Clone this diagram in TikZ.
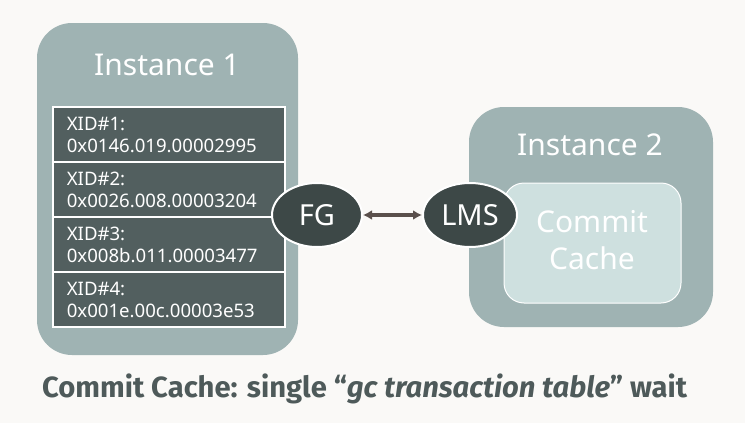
\documentclass[tikz,border=0pt]{standalone}
\usepackage{fontspec}
\setmainfont{Noto Sans}
\newfontfamily\capfont{Fira Sans}
\usetikzlibrary{arrows.meta,shapes.geometric}
\definecolor{bgc}{HTML}{FAF9F7}
\definecolor{instc}{HTML}{9FB3B3}
\definecolor{rowc}{HTML}{525F5F}
\definecolor{ellc}{HTML}{3D4847}
\definecolor{arrc}{HTML}{5A504C}
\definecolor{cachec}{HTML}{CEE0DF}
\definecolor{capc}{HTML}{4E5A5A}
\tikzset{
  instbox/.style={fill=instc, rounded corners=35pt},
  rowbox/.style={draw=white, line width=2.8pt, fill=rowc, minimum width=232pt, minimum height=55pt, inner sep=0pt},
  rowtext/.style={anchor=west, inner sep=0pt, align=left, text=white, font=\fontsize{18.6}{22}\selectfont},
  titletext/.style={text=white, inner sep=0pt, font=\fontsize{30}{36}\selectfont},
  proc/.style={ellipse, draw=white, line width=2pt, fill=ellc, text=white, inner sep=0pt, font=\fontsize{29}{34}\selectfont},
  link/.style={draw=arrc, line width=3.3pt, {Latex[length=9pt,width=10pt]}-{Latex[length=9pt,width=10pt]}},
}
\begin{document}
\begin{tikzpicture}[x=1pt,y=-1pt]
\fill[bgc] (0,0) rectangle (745,423);
\useasboundingbox (0,0) rectangle (745,423);
% Instance 1
\fill[instbox] (37,23) rectangle (298,355);
\node[titletext, anchor=base] (t1) at (167,75) {Instance 1};
\foreach \i/\a/\b in {0/XID\#1:/0x0146.019.00002995, 1/XID\#2:/0x0026.008.00003204, 2/XID\#3:/0x008b.011.00003477, 3/XID\#4:/0x001e.00c.00003e53}{
  \node[rowbox] (r\i) at (169,{134.5+55*\i}) {};
  \node[rowtext] (x\i) at ([xshift=15pt]r\i.west) {\a\\\b};
}
% Instance 2
\fill[instbox] (469,107) rectangle (713,327);
\node[titletext, anchor=base] (t2) at (590,155) {Instance 2};
\draw[draw=white, line width=1pt, fill=cachec, rounded corners=20pt] (504,183) rectangle (681,303);
\node[titletext, align=center, font=\fontsize{30}{37}\selectfont, anchor=base] (cc) at (592,269) {Commit\\Cache};
% processes
\node[proc, minimum width=90pt, minimum height=64pt] (fg) at (317,215) {FG};
\node[proc, minimum width=94pt, minimum height=64pt] (lms) at (470,215) {LMS};
\draw[link] (fg.east) -- (lms.west);
% caption
\node[anchor=base west, inner sep=0pt, text=capc, font=\capfont\bfseries\fontsize{29.2}{34}\selectfont] (cap) at (42,397) {Commit Cache: single “\textit{gc transaction table}” wait};
\end{tikzpicture}
\end{document}
